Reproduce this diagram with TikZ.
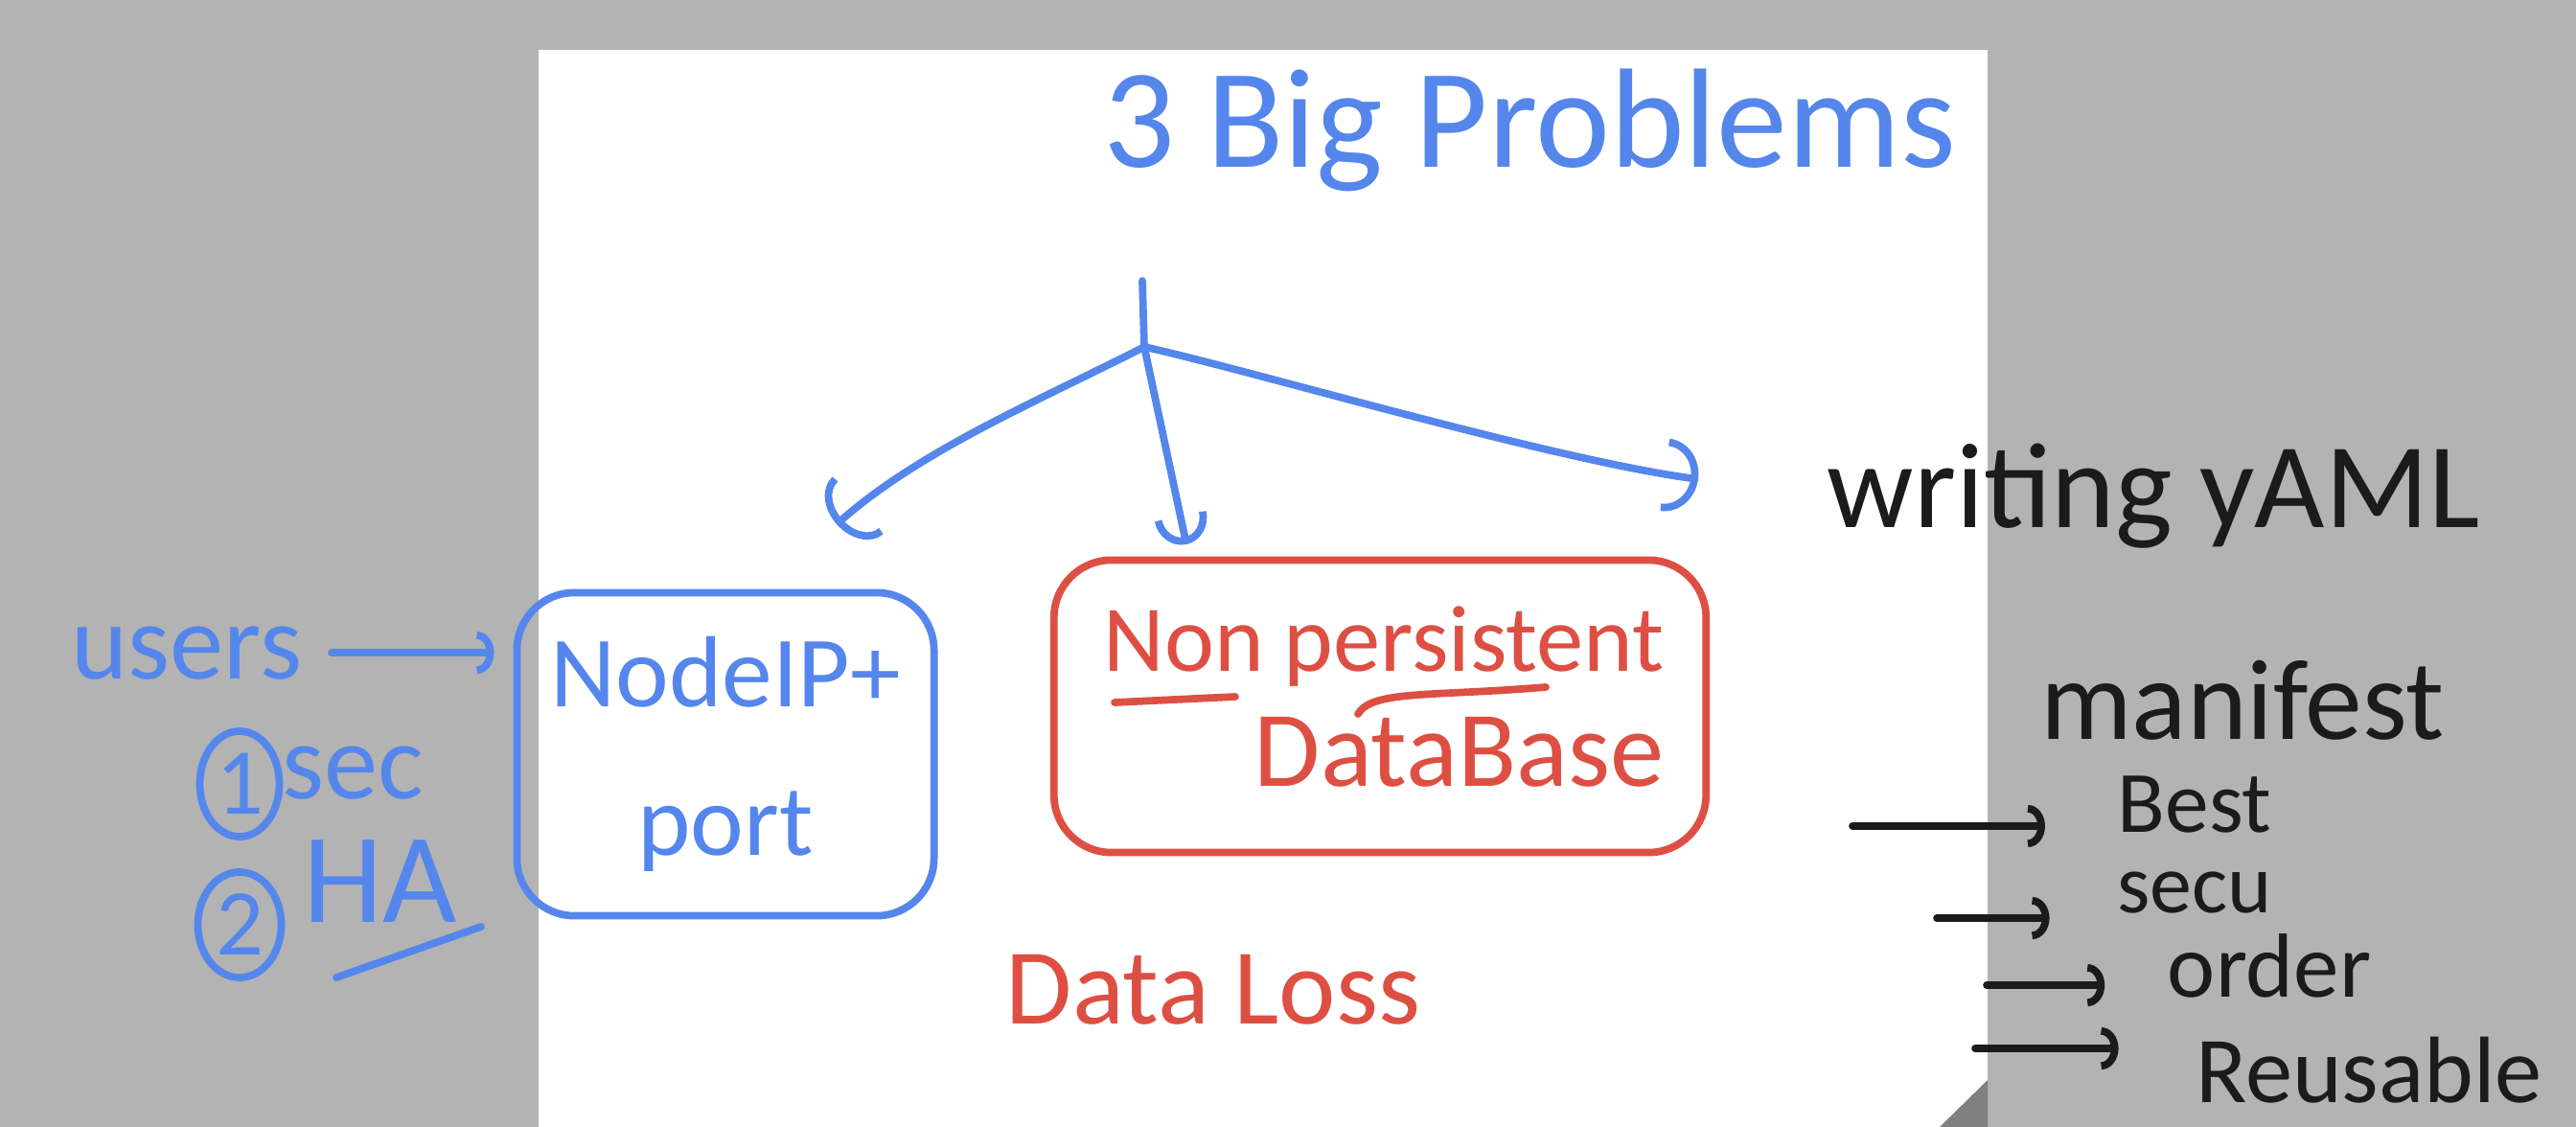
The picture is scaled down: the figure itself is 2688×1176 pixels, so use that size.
\documentclass[tikz,border=0pt]{standalone}
\usepackage{fontspec}
\setmainfont{Carlito}
\usetikzlibrary{arrows.meta,shapes.geometric}

\definecolor{penblue}{HTML}{5586EC}
\definecolor{penred}{HTML}{DE4F43}
\definecolor{penblack}{HTML}{1B1B1B}
\definecolor{desk}{HTML}{B3B3B3}
\definecolor{fold}{HTML}{808080}
\newcommand{\pen}[1]{\fontsize{#1}{#1}\selectfont}

\begin{document}
\begin{tikzpicture}[x=0.01cm, y=-0.01cm,
    ink/.style={line width=2.2pt, line cap=round, line join=round},
    hook/.style={-{Arc Barb[length=3mm, width=8mm]}},
    smallhook/.style={-{Arc Barb[length=1.8mm, width=4.4mm]}},
    word/.style={inner sep=0pt, anchor=base},
    frame/.style={draw, ink, rounded corners=6mm, inner sep=0pt}]
  \useasboundingbox (0,0) rectangle (2688,1176);
  \fill[desk] (0,0) rectangle (2688,1176);
  \fill[white] (562,52) rectangle (2074,1176);
  \fill[fold] (2074,1127) -- (2074,1176) -- (2024,1176) -- cycle;

  % title and the three branches
  \node[word, text=penblue, font=\pen{42}] (title) at (1596,175) {3 Big Problems};
  \coordinate (stem) at (1192,293);
  \coordinate (fork) at (1194,362);
  \coordinate (toport) at (873,547);
  \coordinate (todb) at (1238,568);
  \coordinate (toyaml) at (1772,500);
  \draw[ink, penblue] (stem) -- (fork);
  \draw[ink, penblue, hook] (fork) .. controls (1080,420) and (960,470) .. (toport);
  \draw[ink, penblue, -{Arc Barb[length=3mm, width=5.5mm]}] (fork) -- (todb);
  \draw[ink, penblue, -{Arc Barb[length=3.5mm, width=7.6mm]}] (fork) .. controls (1300,385) and (1620,480) .. (toyaml);

  % NodePort
  \node[frame, draw=penblue, text=penblue, font=\pen{30}, align=center,
        minimum width=4.35cm, minimum height=3.37cm] (portbox) at (757,787) {NodeIP+\\[14pt]port};
  \node[word, text=penblue, font=\pen{32}] (users) at (195,708) {users};
  \draw[ink, penblue, smallhook, shorten <=3mm, shorten >=2mm] (users.east) -- (users.east -| portbox.west);
  \node[ellipse, draw=penblue, ink, minimum width=8.3mm, minimum height=11mm, inner sep=0pt,
        text=penblue, font=\pen{28}] (one) at (250,818) {1};
  \node[word, text=penblue, font=\pen{32}] (sec) at (368,833) {sec};
  \node[ellipse, draw=penblue, ink, minimum width=8.7mm, minimum height=11mm, inner sep=0pt,
        text=penblue, font=\pen{28}] (two) at (250,965) {2};
  \node[word, text=penblue, font=\pen{38}] (HA) at (397,962) {HA};
  \draw[ink, penblue] ([shift={(-46,58)}]HA.base) -- ([shift={(105,5)}]HA.base);

  % database
  \node[frame, draw=penred, minimum width=6.8cm, minimum height=3.05cm] (dbbox) at (1440,737) {};
  \node[word, anchor=base west, text=penred, font=\pen{28}] (non) at (1151,700) {Non};
  \node[word, anchor=base east, text=penred, font=\pen{28}] (persist) at (1737,700) {persistent};
  \node[word, anchor=base east, text=penred, font=\pen{32}] (dbase) at (1737,820) {DataBase};
  \draw[ink, penred] ([shift={(12,33)}]non.base west) -- ([shift={(138,27)}]non.base west);
  \draw[ink, penred] ([shift={(-320,45)}]persist.base east) .. controls +(15,-25) and +(-120,10) .. ([shift={(-124,17)}]persist.base east);
  \node[word, text=penred, font=\pen{32}] (loss) at (1266,1068) {Data Loss};

  % yaml manifest
  \node[word, text=penblack, font=\pen{36}] (yaml) at (2247,550) {writing yAML};
  \node[word, text=penblack, font=\pen{34}] (manifest) at (2340,771) {manifest};
  \node[word, text=penblack, font=\pen{26}] (best) at (2290,868) {Best};
  \node[word, text=penblack, font=\pen{25}] (secu) at (2290,952) {secu};
  \node[word, text=penblack, font=\pen{27}] (order) at (2368,1040) {order};
  \node[word, text=penblack, font=\pen{28}] (reuse) at (2472,1150) {Reusable};
  \coordinate (b1) at (1933,862);
  \coordinate (b2) at (2021,958);
  \coordinate (b3) at (2073,1028);
  \coordinate (b4) at (2061,1094);
  \draw[ink, penblack, smallhook, shorten >=7.5mm] (b1) -- (b1 -| best.west);
  \draw[ink, penblack, smallhook, shorten >=7mm] (b2) -- (b2 -| secu.west);
  \draw[ink, penblack, smallhook, shorten >=6.5mm] (b3) -- (b3 -| order.west);
  \draw[ink, penblack, smallhook, shorten >=8mm] (b4) -- (b4 -| reuse.west);
\end{tikzpicture}
\end{document}
